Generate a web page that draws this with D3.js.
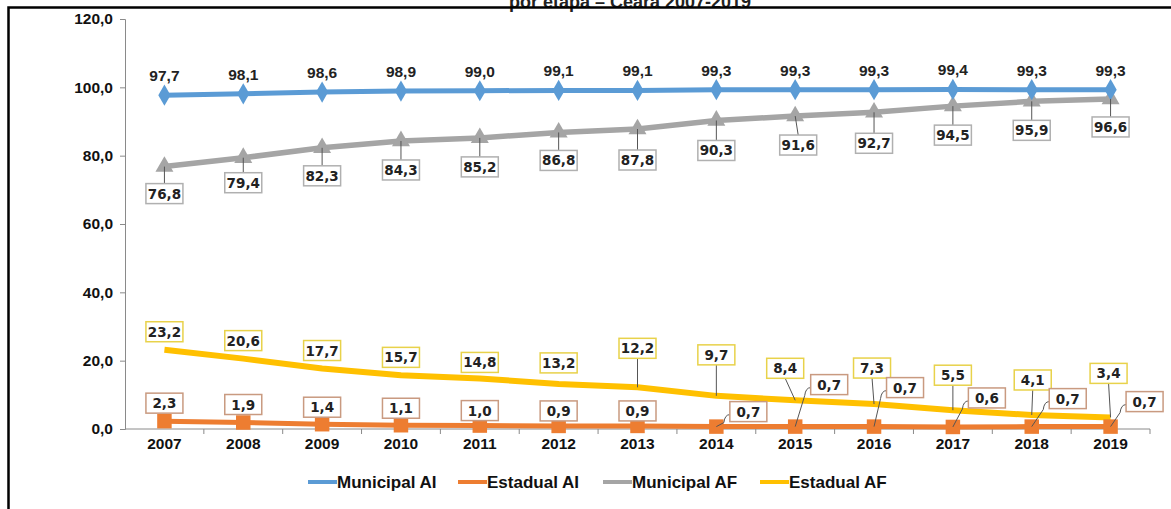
<!DOCTYPE html>
<html>
<head>
<meta charset="utf-8">
<script src="https://cdn.jsdelivr.net/npm/d3@7"></script>
<style>
  body { margin: 0; background: #fff; }
  svg { display: block; font-family: "Liberation Sans", Arial, sans-serif; }
</style>
</head>
<body>
<div id="chart"></div>
<script>
const years = ["2007", "2008", "2009", "2010", "2011", "2012", "2013", "2014", "2015", "2016", "2017", "2018", "2019"];
const municipalAI = [97.7, 98.1, 98.6, 98.9, 99.0, 99.1, 99.1, 99.3, 99.3, 99.3, 99.4, 99.3, 99.3];
const estadualAI = [2.3, 1.9, 1.4, 1.1, 1.0, 0.9, 0.9, 0.7, 0.7, 0.7, 0.6, 0.7, 0.7];
const municipalAF = [76.8, 79.4, 82.3, 84.3, 85.2, 86.8, 87.8, 90.3, 91.6, 92.7, 94.5, 95.9, 96.6];
const estadualAF = [23.2, 20.6, 17.7, 15.7, 14.8, 13.2, 12.2, 9.7, 8.4, 7.3, 5.5, 4.1, 3.4];
const yTicks = [0, 20, 40, 60, 80, 100, 120];
const seriesNames = ["Municipal AI", "Estadual AI", "Municipal AF", "Estadual AF"];

// label nudges (layout only), [dx, dy] from the point to the label box centre
const nudgeEstAF = [[0,-18],[0,-18],[0,-18],[0,-18],[0,-16],[0,-21],[0,-39],[0,-41],[-10,-32],[-2,-36],[0,-35],[1,-35],[-2,-44]];
const nudgeEstAI = [[0,-18],[0,-18],[0,-17],[0,-17],[0,-15],[0,-15],[0,-15],[32,-15],[34,-42],[31,-39],[34,-29],[36,-28],[34,-25]];
const nudgeMunAF = [[0,27],[0,25],[0,28],[0,29],[0,29],[0,28],[0,31],[0,30],[3,29],[0,31],[0,29],[0,29],[0,28]];

const width = 1171, height = 509;
const fmt = v => v.toFixed(1).replace(".", ",");

const svg = d3.select("#chart").append("svg")
    .attr("width", width)
    .attr("height", height);

const x = d3.scaleBand().domain(years).range([125, 1150]);
const y = d3.scaleLinear().domain([0, 120]).range([429, 19]);
const cx = (d, i) => x(years[i]) + x.bandwidth() / 2;

// title (cut off at top like the source)
svg.append("text")
    .attr("x", 630).attr("y", 8)
    .attr("text-anchor", "middle")
    .style("font-size", "18px").style("font-weight", "bold")
    .attr("fill", "#222")
    .text("por etapa – Ceará 2007-2019");

// frame
svg.append("path")
    .attr("d", "M8.5,509 L8.5,7.5 L1171,7.5")
    .attr("fill", "none").attr("stroke", "#000").attr("stroke-width", 2.5);

// y axis
const yAxis = svg.append("g")
    .attr("transform", "translate(125,0)")
    .call(d3.axisLeft(y).tickValues(yTicks).tickFormat(fmt).tickSize(5).tickPadding(7));
yAxis.select(".domain").attr("stroke", "#8a8a8a");
yAxis.selectAll(".tick line").attr("stroke", "#8a8a8a");
yAxis.selectAll("text").style("font-size", "15.5px").style("font-weight", "bold").attr("fill", "#111");

// x axis
svg.append("line")
    .attr("x1", 125).attr("x2", 1150).attr("y1", y(0)).attr("y2", y(0))
    .attr("stroke", "#8a8a8a");
svg.selectAll(".xtick").data(years.slice(1).concat(["end"]))
    .enter().append("line")
    .attr("x1", (d, i) => 125 + x.step() * (i + 1))
    .attr("x2", (d, i) => 125 + x.step() * (i + 1))
    .attr("y1", y(0)).attr("y2", y(0) + 5)
    .attr("stroke", "#8a8a8a");
svg.selectAll(".xlab").data(years)
    .enter().append("text")
    .attr("x", d => x(d) + x.bandwidth() / 2)
    .attr("y", 449)
    .attr("text-anchor", "middle")
    .style("font-size", "15.5px").style("font-weight", "bold")
    .attr("fill", "#111")
    .text(d => d);

const colors = { mAI: "#5b9bd5", eAI: "#ed7d31", mAF: "#a5a5a5", eAF: "#ffc000" };

function drawLine(values, color, w) {
    const line = d3.line().x((d, i) => cx(d, i)).y(d => y(d));
    svg.append("path")
        .datum(values)
        .attr("d", line)
        .attr("fill", "none")
        .attr("stroke", color)
        .attr("stroke-width", w)
        .attr("stroke-linejoin", "round");
}

function drawMarkers(values, color, symbol, size) {
    svg.selectAll(null).data(values)
        .enter().append("path")
        .attr("transform", (d, i) => `translate(${cx(d, i)},${y(d)})`)
        .attr("d", d3.symbol().type(symbol).size(size))
        .attr("fill", color);
}

function boxLabels(values, nudge, border, leader) {
    const g = svg.append("g");
    values.forEach((v, i) => {
        const px = cx(v, i), py = y(v);
        const bx = px + nudge[i][0], by = py + nudge[i][1];
        const bw = 37, bh = 20;
        if (leader(i, nudge[i])) {
            // leader line from point to box edge
            let ex, ey;
            if (nudge[i][0] > 10) { ex = bx - bw / 2; ey = by + 3; }
            else if (nudge[i][1] < 0) { ex = bx; ey = by + bh / 2; }
            else { ex = bx; ey = by - bh / 2; }
            const path = nudge[i][0] > 10
                ? `M${px},${py} L${ex - 6},${ey + 8} Q${ex - 5},${ey} ${ex},${ey}`
                : `M${px},${py} L${ex},${ey}`;
            g.append("path").attr("d", path)
                .attr("fill", "none").attr("stroke", "#555").attr("stroke-width", 1);
        }
        g.append("rect")
            .attr("x", bx - bw / 2).attr("y", by - bh / 2)
            .attr("width", bw).attr("height", bh)
            .attr("fill", "#fff").attr("stroke", border).attr("stroke-width", 1.5);
        g.append("text")
            .attr("x", bx).attr("y", by + 5)
            .attr("text-anchor", "middle")
            .style("font-family", "'DejaVu Sans', Verdana, sans-serif")
            .style("font-size", "13.5px").style("font-weight", "bold")
            .attr("fill", "#222")
            .text(fmt(v));
    });
}

// Estadual AF
drawLine(estadualAF, colors.eAF, 6);
// Estadual AI
drawLine(estadualAI, colors.eAI, 5);
drawMarkers(estadualAI, colors.eAI, d3.symbolSquare, 210);
// Municipal AF
drawLine(municipalAF, colors.mAF, 5.5);
drawMarkers(municipalAF, colors.mAF, d3.symbolTriangle, 140);
// Municipal AI
drawLine(municipalAI, colors.mAI, 5);
drawMarkers(municipalAI, colors.mAI, d3.symbolDiamond, 130);

boxLabels(estadualAF, nudgeEstAF, "#e8d24a", (i, n) => n[1] < -25);
boxLabels(estadualAI, nudgeEstAI, "#c99a80", (i, n) => n[0] > 10);
boxLabels(municipalAF, nudgeMunAF, "#b0b0b0", () => true);

// Municipal AI labels (no box)
svg.selectAll(".mai").data(municipalAI)
    .enter().append("text")
    .attr("x", (d, i) => cx(d, i))
    .attr("y", d => y(d) - 14)
    .attr("text-anchor", "middle")
    .style("font-size", "15.5px").style("font-weight", "bold")
    .attr("fill", "#222")
    .text(fmt);

// legend
const legendX = [308, 458, 603, 760];
const legendColors = [colors.mAI, colors.eAI, colors.mAF, colors.eAF];
const legend = svg.append("g");
seriesNames.forEach((name, i) => {
    const lx = legendX[i], ly = 482;
    legend.append("line")
        .attr("x1", lx).attr("x2", lx + 29).attr("y1", ly).attr("y2", ly)
        .attr("stroke", legendColors[i]).attr("stroke-width", 4);
    legend.append("text")
        .attr("x", lx + 29).attr("y", ly + 6)
        .style("font-size", "17px").style("font-weight", "bold")
        .attr("fill", "#111")
        .text(name);
});
</script>
</body>
</html>
